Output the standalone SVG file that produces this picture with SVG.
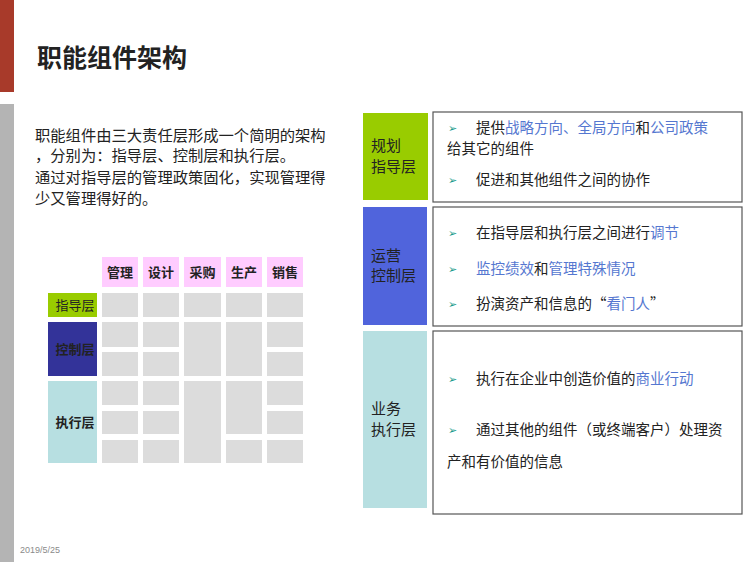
<svg xmlns="http://www.w3.org/2000/svg" width="750" height="562" viewBox="0 0 750 562">
<style>
text{font-family:"Noto Sans CJK SC","Noto Sans",sans-serif;fill:#222}
.body{font-size:15.3px}
.rt{font-size:14.5px}
.hl{fill:#5577d0}
.bul{font-family:"DejaVu Sans",sans-serif;font-size:11px;fill:#1a9a8a}
.hd{font-size:13px;font-weight:bold;text-anchor:middle}
.cell{fill:#dcdcdc}
.pink{fill:#ffccff}
.box{fill:#fff;stroke:#555;stroke-width:1.2}
.lab{font-size:15px;fill:#222}
</style>
<rect width="750" height="562" fill="#fff"/>
<rect x="0" y="0" width="14" height="92" fill="#a83a2a"/>
<rect x="0" y="104" width="14" height="458" fill="#b4b4b4"/>
<text x="37" y="67" font-size="25" font-weight="bold" fill="#111">职能组件架构</text>
<g id="intro">
<text class="body" x="35" y="141">职能组件由三大责任层形成一个简明的架构</text>
<text class="body" x="35" y="161">，分别为：指导层、控制层和执行层。</text>
<text class="body" x="35" y="183">通过对指导层的管理政策固化，实现管理得</text>
<text class="body" x="35" y="204">少又管理得好的。</text>
</g>
<g id="grid">
<rect class="pink" x="102" y="257" width="36" height="30"/>
<rect class="pink" x="143" y="257" width="36" height="30"/>
<rect class="pink" x="184" y="257" width="37" height="30"/>
<rect class="pink" x="226" y="257" width="36" height="30"/>
<rect class="pink" x="267" y="257" width="36" height="30"/>
<text class="hd" x="120" y="277">管理</text>
<text class="hd" x="161" y="277">设计</text>
<text class="hd" x="202.5" y="277">采购</text>
<text class="hd" x="244" y="277">生产</text>
<text class="hd" x="285" y="277">销售</text>
<rect x="48" y="293" width="49" height="24" fill="#99cc00"/>
<rect x="48" y="322" width="49" height="54" fill="#333399"/>
<rect x="48" y="381" width="49" height="82" fill="#b7dfe1"/>
<text x="75" y="310" font-size="13" text-anchor="middle" fill="#333">指导层</text>
<text x="75" y="354" font-size="13" font-weight="bold" text-anchor="middle" fill="#111">控制层</text>
<text x="75" y="427" font-size="13" font-weight="bold" text-anchor="middle" fill="#111">执行层</text>
<g class="cell">
<rect x="102" y="293" width="36" height="24"/><rect x="102" y="322" width="36" height="25"/><rect x="102" y="352" width="36" height="24"/><rect x="102" y="381" width="36" height="24"/><rect x="102" y="411" width="36" height="23"/><rect x="102" y="440" width="36" height="23"/>
<rect x="143" y="293" width="36" height="24"/><rect x="143" y="322" width="36" height="25"/><rect x="143" y="352" width="36" height="24"/><rect x="143" y="381" width="36" height="24"/><rect x="143" y="411" width="36" height="23"/><rect x="143" y="440" width="36" height="23"/>
<rect x="184" y="293" width="37" height="24"/><rect x="184" y="322" width="37" height="54"/><rect x="184" y="381" width="37" height="82"/>
<rect x="226" y="293" width="36" height="24"/><rect x="226" y="322" width="36" height="54"/><rect x="226" y="381" width="36" height="53"/><rect x="226" y="440" width="36" height="23"/>
<rect x="267" y="293" width="36" height="24"/><rect x="267" y="322" width="36" height="25"/><rect x="267" y="352" width="36" height="24"/><rect x="267" y="381" width="36" height="24"/><rect x="267" y="411" width="36" height="23"/><rect x="267" y="440" width="36" height="23"/>
</g>
</g>
<g id="plan">
<rect x="363" y="113" width="65" height="87" fill="#99cc00"/>
<text class="lab" x="371" y="151">规划</text>
<text class="lab" x="371" y="172">指导层</text>
<rect class="box" x="433" y="112" width="309" height="90"/>
<text class="bul" x="448" y="132">➢</text>
<text class="rt" x="476" y="133">提供<tspan class="hl">战略方向、全局方向</tspan>和<tspan class="hl">公司政策</tspan></text>
<text class="rt" x="447" y="154">给其它的组件</text>
<text class="bul" x="448" y="184">➢</text>
<text class="rt" x="476" y="185">促进和其他组件之间的协作</text>
</g>
<g id="control">
<rect x="363" y="207" width="64" height="118" fill="#5064dc"/>
<text class="lab" x="371" y="261">运营</text>
<text class="lab" x="371" y="281">控制层</text>
<rect class="box" x="433" y="207" width="309" height="119"/>
<text class="bul" x="448" y="237">➢</text>
<text class="rt" x="476" y="238">在指导层和执行层之间进行<tspan class="hl">调节</tspan></text>
<text class="bul" x="448" y="273">➢</text>
<text class="rt" x="476" y="274"><tspan class="hl">监控绩效</tspan>和<tspan class="hl">管理特殊情况</tspan></text>
<text class="bul" x="448" y="308">➢</text>
<text class="rt" x="476" y="309">扮演资产和信息的“<tspan class="hl">看门人</tspan>”</text>
</g>
<g id="exec">
<rect x="363" y="331" width="64" height="177" fill="#b7dfe1"/>
<text class="lab" x="371" y="414">业务</text>
<text class="lab" x="371" y="435">执行层</text>
<rect class="box" x="433" y="331" width="309" height="183"/>
<text class="bul" x="448" y="383">➢</text>
<text class="rt" x="476" y="384">执行在企业中创造价值的<tspan class="hl">商业行动</tspan></text>
<text class="bul" x="448" y="434">➢</text>
<text class="rt" x="476" y="435">通过其他的组件（或终端客户）处理资</text>
<text class="rt" x="447" y="467">产和有价值的信息</text>
</g>
<text x="20" y="553" font-size="9" style="fill:#8a8a8a;font-family:'Liberation Sans',sans-serif">2019/5/25</text>
</svg>
